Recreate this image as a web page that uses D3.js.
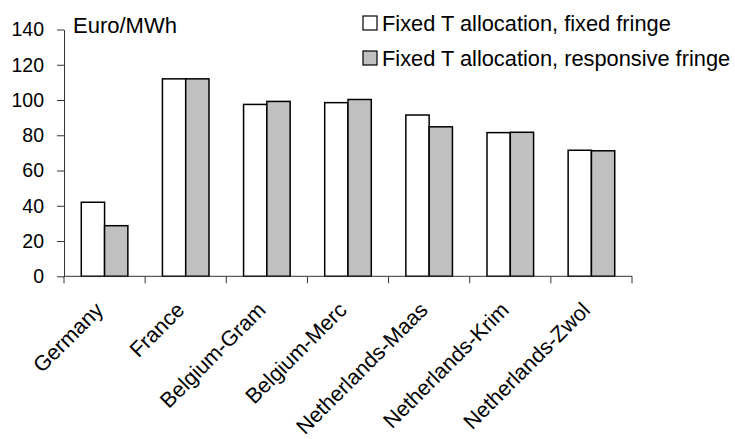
<!DOCTYPE html>
<html>
<head>
<meta charset="utf-8">
<script src="https://cdn.jsdelivr.net/npm/d3@7"></script>
<style>
  html, body { margin: 0; padding: 0; background: #fff; }
  svg { display: block; font-family: "Liberation Sans", Arial, Helvetica, sans-serif; }
</style>
</head>
<body>
<svg id="chart" width="735" height="439"></svg>
<script>
const categories = ["Germany", "France", "Belgium-Gram", "Belgium-Merc", "Netherlands-Maas", "Netherlands-Krim", "Netherlands-Zwol"];
const seriesNames = ["Fixed T allocation, fixed fringe", "Fixed T allocation, responsive fringe"];
const fixedFringe = [42, 112, 97.5, 98.5, 91.5, 81.5, 71.5];
const responsiveFringe = [28.7, 112, 99.2, 100.3, 84.8, 81.7, 71.2];
const yTicks = [0, 20, 40, 60, 80, 100, 120, 140];
const unitLabel = "Euro/MWh";
const colors = ["#ffffff", "#c0c0c0"];

(function () {
const svg = d3.select("#chart");
const mLeft = 64, mRight = 632, mTop = 29.5, mBottom = 276.3;

const x0 = d3.scaleBand().domain(categories).range([mLeft, mRight]).paddingInner(0).paddingOuter(0);
const groupPad = 0.213 * x0.bandwidth();
const x1 = d3.scaleBand().domain(seriesNames).range([groupPad, x0.bandwidth() - groupPad]).padding(0);
const y = d3.scaleLinear().domain([0, 140]).range([mBottom, mTop]);

const data = categories.map((c, i) => ({ cat: c, vals: [fixedFringe[i], responsiveFringe[i]] }));

// bars
const g = svg.append("g");
data.forEach(d => {
  d.vals.forEach((v, j) => {
    g.append("rect")
      .attr("x", x0(d.cat) + x1(seriesNames[j]))
      .attr("y", y(v))
      .attr("width", x1.bandwidth())
      .attr("height", y(0) - y(v))
      .attr("fill", colors[j])
      .attr("stroke", "#000")
      .attr("stroke-width", 1.5);
  });
});

// y axis
const yAxis = d3.axisLeft(y).tickValues(yTicks).tickSize(7).tickPadding(13).tickSizeOuter(0);
const ya = svg.append("g").attr("transform", `translate(${mLeft},0)`).call(yAxis);
ya.select(".domain").attr("stroke", "#333");
ya.selectAll(".tick line").attr("stroke", "#333");
ya.selectAll("text").attr("font-size", 19.5).attr("fill", "#000").attr("font-family", "Liberation Sans, Arial, sans-serif");

// x axis
const xa = svg.append("g").attr("transform", `translate(0,${mBottom})`);
xa.append("line").attr("x1", mLeft).attr("x2", mRight).attr("y1", 0).attr("y2", 0).attr("stroke", "#333");
const boundaries = categories.map(c => x0(c)).concat([mRight]);
xa.selectAll("line.tk").data(boundaries).enter().append("line")
  .attr("class", "tk")
  .attr("x1", d => d).attr("x2", d => d).attr("y1", 0).attr("y2", 7).attr("stroke", "#333");

xa.selectAll("text.cat").data(categories).enter().append("text")
  .attr("class", "cat")
  .attr("text-anchor", "end")
  .attr("font-size", 21.5)
  .attr("transform", d => `translate(${x0(d) + x0.bandwidth() / 2},${35}) rotate(-45)`)
  .text(d => d);

// unit label
svg.append("text").attr("x", 73).attr("y", 33).attr("font-size", 22).text(unitLabel);

// legend
const legend = svg.append("g");
seriesNames.forEach((s, j) => {
  const ly = 16 + j * 35;
  legend.append("rect").attr("x", 363).attr("y", ly).attr("width", 14).attr("height", 14)
    .attr("fill", colors[j]).attr("stroke", "#000").attr("stroke-width", 1.2);
  legend.append("text").attr("x", 382).attr("y", ly + 14.5).attr("font-size", 21.8).text(s);
});
})();
</script>
</body>
</html>
